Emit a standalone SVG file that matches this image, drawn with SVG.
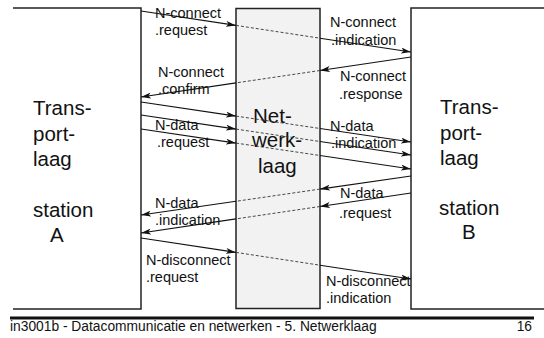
<svg xmlns="http://www.w3.org/2000/svg" width="544" height="338" viewBox="0 0 544 338">
<style>
.box{fill:none;stroke:#222;stroke-width:1.5}
.mid{fill:#f2f2f2;stroke:#222;stroke-width:1.5}
.s{fill:none;stroke:#111;stroke-width:1.1;marker-end:url(#ah)}
.d{fill:none;stroke:#333;stroke-width:0.9;stroke-dasharray:3 2}
.lbl{font-family:"Liberation Sans",Arial,sans-serif;font-size:14.5px;fill:#111}
.big{font-family:"Liberation Sans",Arial,sans-serif;font-size:20.5px;fill:#111}
.ft{font-family:"Liberation Sans",Arial,sans-serif;font-size:13.8px;fill:#111}
</style>
<defs>
<marker id="ah" viewBox="0 0 10 6" refX="10" refY="3" markerWidth="10" markerHeight="6" markerUnits="userSpaceOnUse" orient="auto">
<path d="M0,0 L10,3 L0,6 L2.5,3 z" fill="#111"/>
</marker>
</defs>
<g id="stationA">
<path class="box" d="M13,8 H141 V309 H13"/>
<text class="big" x="33" y="115">Trans-</text>
<text class="big" x="33" y="141">port-</text>
<text class="big" x="33" y="166">laag</text>
<text class="big" x="33" y="217">station</text>
<text class="big" x="50" y="242">A</text>
</g>
<g id="netwerklaag">
<rect class="mid" x="236" y="8.5" width="84" height="300"/>
<text class="big" x="253" y="123">Net-</text>
<text class="big" x="252" y="147">werk-</text>
<text class="big" x="258" y="173">laag</text>
</g>
<g id="stationB">
<path class="box" d="M544,8 H411 V309 H544"/>
<text class="big" x="440" y="114">Trans-</text>
<text class="big" x="440" y="140">port-</text>
<text class="big" x="440" y="165">laag</text>
<text class="big" x="439" y="215">station</text>
<text class="big" x="462" y="239">B</text>
</g>
<g id="connectors">
<line class="s" x1="141" y1="11" x2="236" y2="25.4"/>
<line class="d" x1="236" y1="25.4" x2="320" y2="38.2"/>
<line class="s" x1="320" y1="38.2" x2="411" y2="52"/>

<line class="s" x1="411" y1="57" x2="320" y2="70.5"/>
<line class="d" x1="320" y1="70.5" x2="236" y2="82.9"/>
<line class="s" x1="236" y1="82.9" x2="141" y2="97"/>

<line class="s" x1="141" y1="102" x2="236" y2="116.1"/>
<line class="d" x1="236" y1="116.1" x2="320" y2="128.5"/>
<line class="s" x1="320" y1="128.5" x2="411" y2="142"/>

<line class="s" x1="141" y1="115" x2="236" y2="129.1"/>
<line class="d" x1="236" y1="129.1" x2="320" y2="141.5"/>
<line class="s" x1="320" y1="141.5" x2="411" y2="155"/>

<line class="s" x1="141" y1="129" x2="236" y2="143.1"/>
<line class="d" x1="236" y1="143.1" x2="320" y2="155.5"/>
<line class="s" x1="320" y1="155.5" x2="411" y2="169"/>

<line class="s" x1="411" y1="176" x2="320" y2="189.1"/>
<line class="d" x1="320" y1="189.1" x2="236" y2="201.3"/>
<line class="s" x1="236" y1="201.3" x2="141" y2="215"/>

<line class="s" x1="411" y1="193" x2="320" y2="206.5"/>
<line class="d" x1="320" y1="206.5" x2="236" y2="218.9"/>
<line class="s" x1="236" y1="218.9" x2="141" y2="233"/>

<line class="s" x1="141" y1="238" x2="236" y2="252.4"/>
<line class="d" x1="236" y1="252.4" x2="320" y2="265.2"/>
<line class="s" x1="320" y1="265.2" x2="411" y2="279"/>
</g>
<g id="labels">
<text class="lbl" x="155" y="18">N-connect</text>
<text class="lbl" x="155" y="35">.request</text>
<text class="lbl" x="158" y="77">N-connect</text>
<text class="lbl" x="158" y="94">.confirm</text>
<text class="lbl" x="155" y="130">N-data</text>
<text class="lbl" x="157" y="147">.request</text>
<text class="lbl" x="155" y="208">N-data</text>
<text class="lbl" x="155" y="225">.indication</text>
<text class="lbl" x="146" y="265">N-disconnect</text>
<text class="lbl" x="146" y="282">.request</text>
<text class="lbl" x="330" y="27">N-connect</text>
<text class="lbl" x="331" y="45">.indication</text>
<text class="lbl" x="340" y="81">N-connect</text>
<text class="lbl" x="339" y="99">.response</text>
<text class="lbl" x="330" y="131">N-data</text>
<text class="lbl" x="331" y="148">.indication</text>
<text class="lbl" x="340" y="198">N-data</text>
<text class="lbl" x="339" y="218">.request</text>
<text class="lbl" x="326" y="286">N-disconnect</text>
<text class="lbl" x="326" y="303">.indication</text>
</g>
<g id="footer">
<line x1="10" y1="318" x2="534" y2="318" stroke="#111" stroke-width="3"/>
<text class="ft" x="10" y="331">in3001b - Datacommunicatie en netwerken - 5. Netwerklaag</text>
<text class="ft" x="532" y="331" text-anchor="end">16</text>
</g>
</svg>
